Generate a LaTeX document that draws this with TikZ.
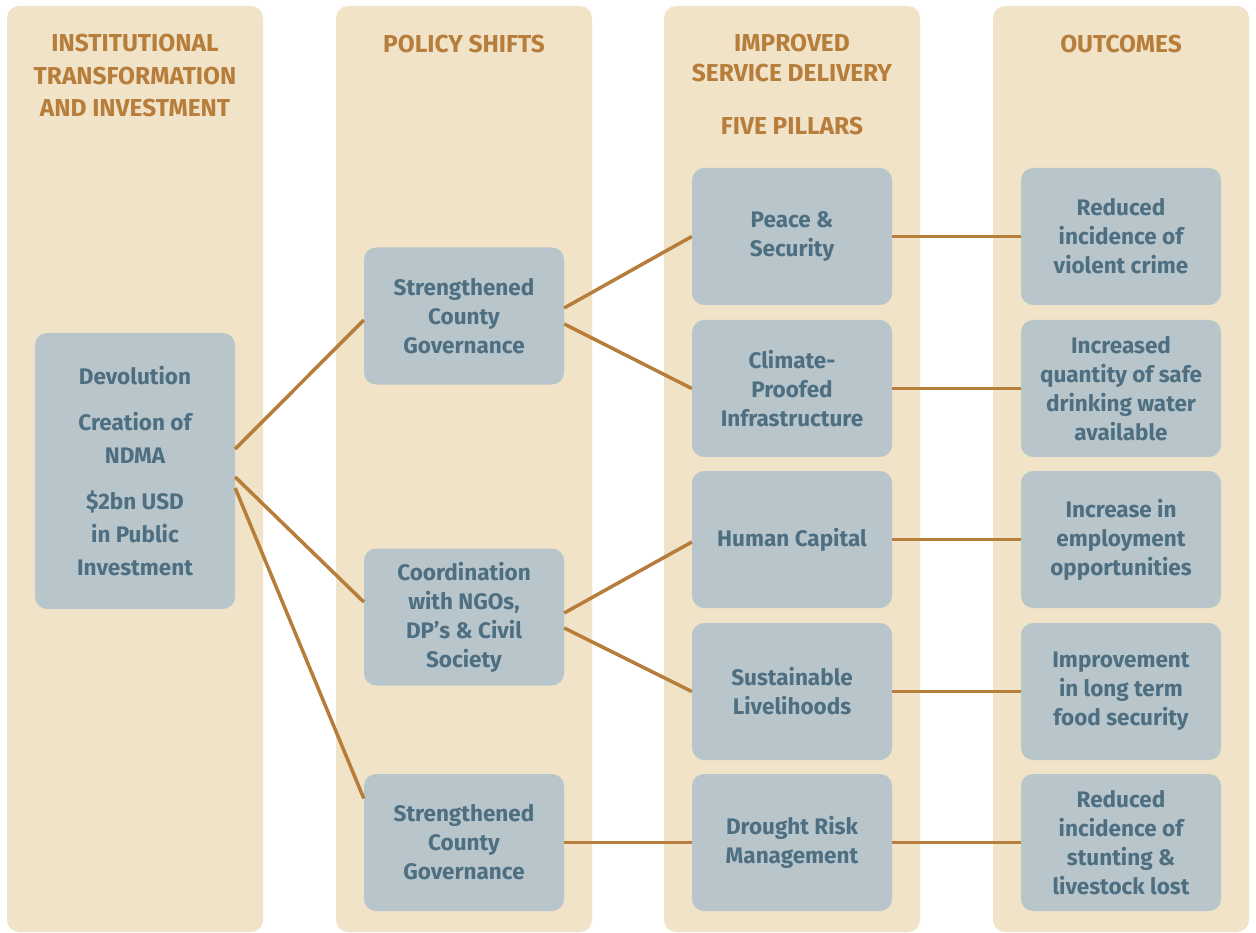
\documentclass[tikz,border=0pt]{standalone}
\usepackage{fontspec}
\setmainfont{Fira Sans}

\definecolor{colbg}{HTML}{F1E3C7}
\definecolor{boxfill}{HTML}{B8C5CB}
\definecolor{boxtext}{HTML}{4E6F81}
\definecolor{ochre}{HTML}{B77D3A}

\tikzset{
  column/.style={fill=colbg, rounded corners=12pt},
  pillar/.style={fill=boxfill, rounded corners=12pt, minimum width=200pt,
    minimum height=137pt, inner sep=0pt, align=center, text=boxtext,
    font=\bfseries\fontsize{22.5}{29}\selectfont},
  heading/.style={text=ochre, align=center,
    font=\bfseries\fontsize{24.5}{32.5}\selectfont},
  link/.style={draw=ochre, line width=3.5pt}
}

\begin{document}
\begin{tikzpicture}[x=1pt, y=-1pt]
  \useasboundingbox (0,0) rectangle (1256,933);
  \fill[white] (0,0) rectangle (1256,933);
  % four column panels
  \foreach \x in {7,336,664,993}
    \fill[column] (\x,6) rectangle ++(256,926);

  % headings
  \node[heading] (h1) at (135,76) {INSTITUTIONAL\\TRANSFORMATION\\AND INVESTMENT};
  \node[heading] (h2) at (464,44) {POLICY SHIFTS};
  \node[heading, font=\bfseries\fontsize{24.5}{30}\selectfont] (h3) at (792,58) {IMPROVED\\SERVICE DELIVERY};
  \node[heading] (h3b) at (792,126) {FIVE PILLARS};
  \node[heading] (h4) at (1121,44) {OUTCOMES};

  % investment
  \node[pillar, minimum height=276pt, font=\bfseries\fontsize{22.5}{33}\selectfont] (inst) at (135,471)
    {Devolution\\[13pt]Creation of\\NDMA\\[13pt]\$2bn USD\\in Public\\Investment};

  % policy shifts
  \node[pillar] (pol1) at (464,316) {Strengthened\\County\\Governance};
  \node[pillar] (pol2) at (464,617) {Coordination\\with NGOs,\\DP’s \& Civil\\Society};
  \node[pillar] (pol3) at (464,842.5) {Strengthened\\County\\Governance};

  % five pillars
  \node[pillar] (pil1) at (792,236.5) {Peace \&\\Security};
  \node[pillar] (pil2) at (792,388.5) {Climate-\\Proofed\\Infrastructure};
  \node[pillar] (pil3) at (792,539.5) {Human Capital};
  \node[pillar] (pil4) at (792,691.5) {Sustainable\\Livelihoods};
  \node[pillar] (pil5) at (792,842.5) {Drought Risk\\Management};

  % outcomes
  \node[pillar] (out1) at (1121,236.5) {Reduced\\incidence of\\violent crime};
  \node[pillar] (out2) at (1121,388.5) {Increased\\quantity of safe\\drinking water\\available};
  \node[pillar] (out3) at (1121,539.5) {Increase in\\employment\\opportunities};
  \node[pillar] (out4) at (1121,691.5) {Improvement\\in long term\\food security};
  \node[pillar] (out5) at (1121,842.5) {Reduced\\incidence of\\stunting \&\\livestock lost};

  % links
  \draw[link] ([yshift=22pt]inst.east) -- ([yshift=-4pt]pol1.west);
  \draw[link] ([yshift=-6pt]inst.east) -- ([yshift=15pt]pol2.west);
  \draw[link] ([yshift=-17pt]inst.east) -- ([yshift=44pt]pol3.west);
  \draw[link] ([yshift=8pt]pol1.east) -- (pil1.west);
  \draw[link] ([yshift=-8pt]pol1.east) -- (pil2.west);
  \draw[link] ([yshift=4pt]pol2.east) -- ([yshift=-2.5pt]pil3.west);
  \draw[link] ([yshift=-11pt]pol2.east) -- (pil4.west);
  \draw[link] (pol3.east) -- (pil5.west);
  \foreach \i in {1,...,5}
    \draw[link] (pil\i.east) -- (out\i.west);
\end{tikzpicture}
\end{document}
